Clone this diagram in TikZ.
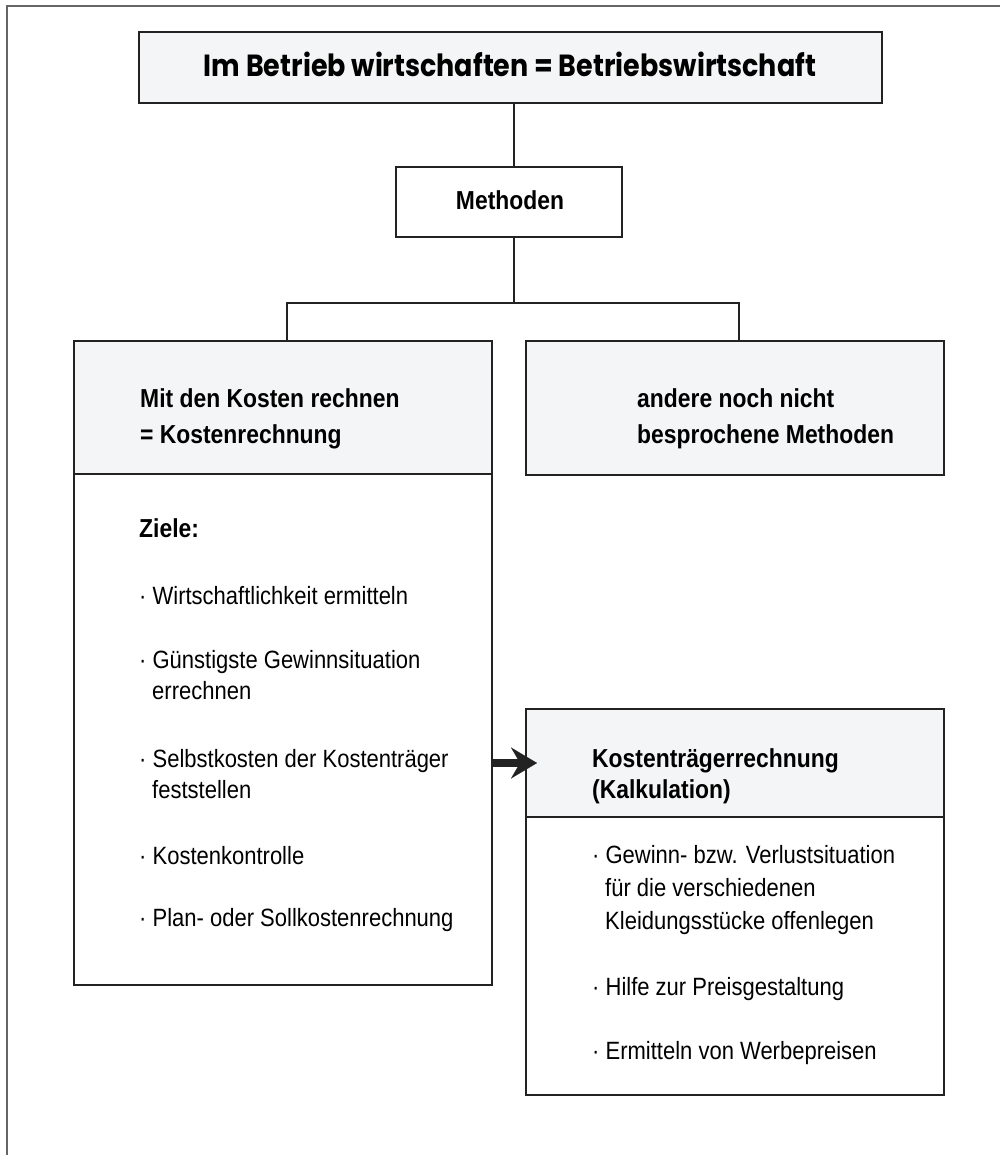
\documentclass[tikz,border=0pt]{standalone}
\usepackage{fontspec}
\setmainfont{Liberation Sans}[FakeStretch=0.88]
\newfontfamily\titlefont{Poppins}
\usetikzlibrary{arrows.meta}
\definecolor{hdr}{HTML}{F4F5F6}
\definecolor{ln}{HTML}{222222}
\definecolor{frm}{HTML}{666666}
\begin{document}
\begin{tikzpicture}[x=1pt,y=-1pt,
  box/.style={draw=ln, line width=2pt, inner sep=0pt, rectangle, fill=white},
  hbox/.style={box, fill=hdr},
  conn/.style={draw=ln, line width=2pt},
  bt/.style={font=\fontsize{26}{33}\selectfont\bfseries, anchor=base west, inner sep=0pt, text=black},
  lt/.style={font=\fontsize{25}{33}\selectfont, anchor=base west, inner sep=0pt, text=black},
  bigarrow/.style={draw=ln, line width=8pt, -{Stealth[length=26pt,width=31pt,inset=9pt,line width=0.1pt]}}
]
\useasboundingbox (0,0) rectangle (1000,1155);
% frame
\draw[frm, line width=2pt] (7,1155) -- (7,6) -- (1000,6);

% boxes
\node[hbox, minimum width=743pt, minimum height=71pt] (title) at (510.5,67.5) {};
\node[box, minimum width=226pt, minimum height=70pt] (meth) at (509,202) {};
\node[box, minimum width=418pt, minimum height=511pt] (kostB) at (283,729.5) {};
\node[hbox, minimum width=418pt, minimum height=133pt] (kostH) at (283,407.5) {};
\node[hbox, minimum width=418pt, minimum height=134pt] (andere) at (735,408) {};
\node[box, minimum width=418pt, minimum height=278pt] (ktB) at (735,956) {};
\node[hbox, minimum width=418pt, minimum height=108pt] (ktH) at (735,763) {};

% connectors
\coordinate (tx) at (514,0);
\coordinate (br) at (514,303);
\coordinate (bl) at (287,303);
\coordinate (brr) at (739,303);
\draw[conn] (title.south -| tx) -- (meth.north -| tx);
\draw[conn] (meth.south -| tx) -- (br);
\draw[conn] (kostH.north -| bl) -- (bl) -- (brr) -- (andere.north -| brr);
\draw[bigarrow] (kostB.east |- ktH.west) -- ([xshift=12pt]ktH.west);

% texts
\node[anchor=base, inner sep=0pt] (ttl) at (510,77) {\resizebox{612pt}{24.5pt}{\titlefont\bfseries Im Betrieb wirtschaften = Betriebswirtschaft}};
\node[bt, anchor=base] (methT) at (510,210) {Methoden};

\node[bt] (kh1) at (140,407) {Mit den Kosten rechnen};
\node[bt] (kh2) at (140,443) {= Kostenrechnung};
\node[bt] (ah1) at (637,407) {andere noch nicht};
\node[bt] (ah2) at (637,443) {besprochene Methoden};

\node[bt] (ziele) at (139,537) {Ziele:};
\node[lt] (z1) at (139,604) {· Wirtschaftlichkeit ermitteln};
\node[lt] (z2a) at (139,668) {· Günstigste Gewinnsituation};
\node[lt] (z2b) at (152,699) {errechnen};
\node[lt] (z3a) at (139,767) {· Selbstkosten der Kostenträger};
\node[lt] (z3b) at (152,798) {feststellen};
\node[lt] (z4) at (139,864) {· Kostenkontrolle};
\node[lt] (z5) at (139,926) {· Plan- oder Sollkostenrechnung};

\node[bt] (kt1) at (592,767) {Kostenträgerrechnung};
\node[bt] (kt2) at (592,798) {(Kalkulation)};
\node[lt] (k1a) at (592,863) {· Gewinn- bzw. Verlustsituation};
\node[lt] (k1b) at (605,896) {für die verschiedenen};
\node[lt] (k1c) at (605,929) {Kleidungsstücke offenlegen};
\node[lt] (k2) at (592,995) {· Hilfe zur Preisgestaltung};
\node[lt] (k3) at (592,1059) {· Ermitteln von Werbepreisen};
\end{tikzpicture}
\end{document}
